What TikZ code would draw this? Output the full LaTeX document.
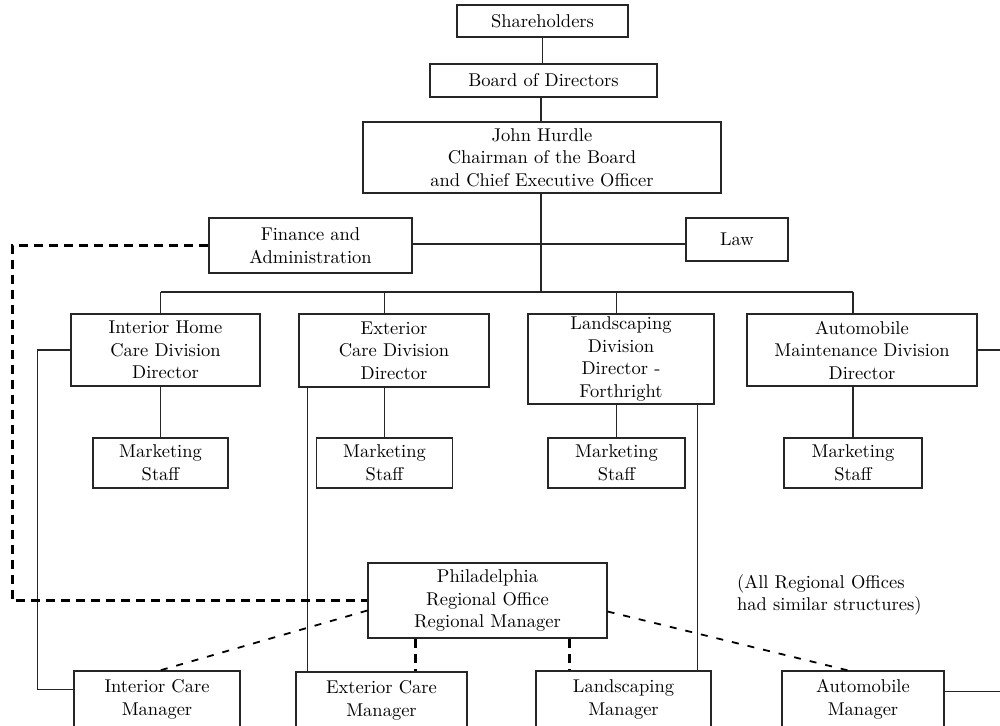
\documentclass[tikz,border=0pt]{standalone}
\usepackage{fontspec}
\setmainfont{lmroman10-regular}[Extension=.otf]
\usetikzlibrary{calc}
\begin{document}
\begin{tikzpicture}[x=1pt,y=-1pt,
  box/.style={draw=black!85, line width=1.2pt, fill=white, inner sep=0pt, align=center,
    font=\fontsize{18.5}{22.5}\selectfont},
  sz/.style 2 args={minimum width=#1pt, minimum height=#2pt},
  link/.style={draw=black!85, line width=1.2pt},
  dashthick/.style={draw=black, line width=2.3pt, dash pattern=on 9pt off 6pt},
  dashthin/.style={draw=black, line width=1.8pt, dash pattern=on 7pt off 9pt},
  note/.style={anchor=west, align=left, inner sep=0pt, font=\fontsize{18.5}{22.5}\selectfont}]
\useasboundingbox (0,0) rectangle (1000,725);
\clip (0,0) rectangle (1000,725);

% upper chain of command
\node[box, sz={171}{32}] (sh)  at (542.5,21)   {Shareholders};
\node[box, sz={227}{33}] (bd)  at (543.5,80.5) {Board of Directors};
\node[box, sz={358}{71}] (ceo) at (542,157.5)  {John Hurdle\\Chairman of the Board\\and Chief Executive Officer};
\node[box, sz={203}{55}] (fin) at (310.5,245.5) {Finance and\\Administration};
\node[box, sz={102}{43}] (law) at (737,239.5)  {Law};

% divisions
\node[box, sz={189}{72}] (divI) at (165.5,350)  {Interior Home\\Care Division\\Director};
\node[box, sz={190}{73}] (divE) at (394,350.5)  {Exterior\\Care Division\\Director};
\node[box, sz={186}{90}] (divL) at (621,359)    {Landscaping\\Division\\Director -\\Forthright};
\node[box, sz={230}{72}] (divA) at (862,350)    {Automobile\\Maintenance Division\\Director};

% marketing staff
\node[box, sz={135}{50}] (mkI) at (160.5,463) {Marketing\\Staff};
\node[box, sz={136}{50}] (mkE) at (384.5,463) {Marketing\\Staff};
\node[box, sz={137}{50}] (mkL) at (616.5,463) {Marketing\\Staff};
\node[box, sz={138}{50}] (mkA) at (853,463)   {Marketing\\Staff};

% regional office
\node[box, sz={239}{75}] (phil) at (487.5,600.5) {Philadelphia\\Regional Office\\Regional Manager};
\node[note] (remark) at (737,595) {(All Regional Offices\\had similar structures)};

% regional managers
\node[box, sz={166}{70}, text depth=17pt] (icm) at (157,706)   {Interior Care\\Manager};
\node[box, sz={171}{70}, text depth=17pt] (ecm) at (381.5,707) {Exterior Care\\Manager};
\node[box, sz={175}{70}, text depth=17pt] (lcm) at (623.5,706) {Landscaping\\Manager};
\node[box, sz={162}{70}, text depth=17pt] (acm) at (863,706)   {Automobile\\Manager};

% junction points
\coordinate (trunk) at (541,292);
\coordinate (staff) at (541,244);

% solid reporting lines
\draw[link] (sh.south) -- (sh.south |- bd.north);
\draw[link] (bd.south -| trunk) -- (trunk |- ceo.north);
\draw[link] (ceo.south -| trunk) -- (trunk);
\draw[link] (fin.east |- staff) -- (law.west |- staff);
\draw[link] (mkI.north |- trunk) -- (mkA.north |- trunk);
\foreach \d/\m in {divI/mkI, divE/mkE, divL/mkL, divA/mkA} {
  \draw[link] (\m.north |- trunk) -- (\m.north |- \d.north);
  \draw[link] (\d.south -| \m.north) -- (\m.north);
}

% division directors to regional managers
\draw[link] (divI.west) -- ++(-33,0) |- ($(icm.north west)+(0,19)$);
\draw[link] ($(divE.south west)+(9,0)$) coordinate (exl) -- (exl |- ecm.north);
\draw[link] ($(divL.south east)+(-17,0)$) coordinate (lal) -- (lal |- lcm.north);
\draw[link] (divA.east) -- (1012,350) |- ($(acm.north east)+(0,21)$);

% dashed regional links
\draw[dashthick] (fin.west) -- ++(-196,0) |- (phil.west);
\draw[dashthin] ($(phil.west)+(0,10)$) -- ($(icm.north)+(3,0)$);
\draw[dashthick] ($(phil.south west)+(48,0)$) coordinate (pe) -- (pe |- ecm.north);
\draw[dashthick] ($(phil.south east)+(-38,0)$) coordinate (pl) -- (pl |- lcm.north);
\draw[dashthin] ($(phil.east)+(0,11)$) -- ($(acm.north)+(-15,0)$);
\end{tikzpicture}
\end{document}
